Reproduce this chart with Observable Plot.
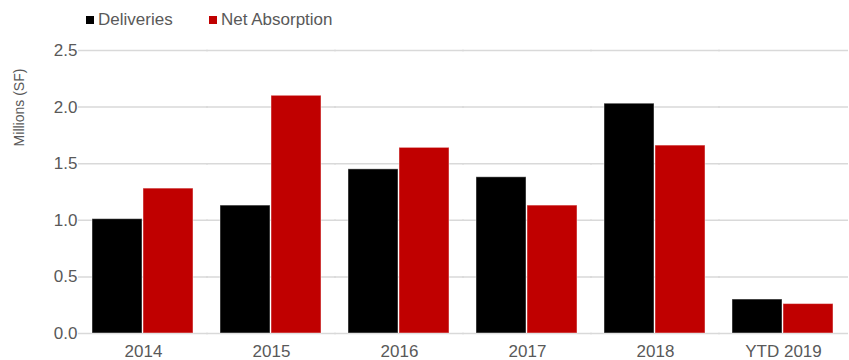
<!DOCTYPE html>
<html><head><meta charset="utf-8">
<script src="https://cdn.jsdelivr.net/npm/d3@7"></script>
<script src="https://cdn.jsdelivr.net/npm/@observablehq/plot@0.6"></script>
<style>
body{margin:0;background:#fff;font-family:"Liberation Sans",Arial,sans-serif;}
#legend{height:40px;position:relative;color:#595959;font-size:17px;line-height:22px;}
.item{position:absolute;top:9px;display:flex;align-items:center;}
.sw{width:8px;height:8px;margin-right:4px;}
</style></head><body>
<div id="legend"></div><div id="chart"></div>
<script>
const years = ["2014","2015","2016","2017","2018","YTD 2019"];
const deliveries = [1.01,1.13,1.45,1.38,2.03,0.30];
const netAbsorption = [1.28,2.10,1.64,1.13,1.66,0.26];
const seriesNames = ["Deliveries","Net Absorption"];
const seriesColors = ["#000000","#c00000"];
const yTicks = [0,0.5,1,1.5,2,2.5];
const yTitle = "Millions (SF)";

const data = [];
years.forEach((y,i)=>{
  data.push({year:y, series:seriesNames[0], value:deliveries[i]});
  data.push({year:y, series:seriesNames[1], value:netAbsorption[i]});
});

const legend = document.getElementById("legend");
const legendX = [86,209];
seriesNames.forEach((n,i)=>{
  const it = document.createElement("div");
  it.className="item"; it.style.left=legendX[i]+"px";
  it.innerHTML = `<span class="sw" style="background:${seriesColors[i]}"></span><span>${n}</span>`;
  legend.appendChild(it);
});

const chart = Plot.plot({
  width: 849,
  height: 320,
  marginLeft: 79,
  marginRight: 2,
  marginTop: 10,
  marginBottom: 27,
  style: {fontFamily:'"Liberation Sans",Arial,sans-serif', fontSize:"17px", color:"#595959", background:"#fff"},
  fx: {domain: years, paddingInner: 0.19, paddingOuter: 0.095, label: null, axis: "bottom", tickSize: 0, tickPadding: 11},
  x: {domain: seriesNames, padding: 0.015, axis: null},
  y: {domain: [0,2.5], label: null, axis: null},
  color: {domain: seriesNames, range: seriesColors},
  marks: [
    Plot.gridY(yTicks, {stroke:"#d9d9d9", strokeOpacity:1, strokeWidth:1.5, insetLeft:-13, insetRight:-13}),
    Plot.barY(data, {fx:"year", x:"series", y:"value", fill:"series", stroke:"#ffffff", strokeOpacity:0.45, strokeWidth:1}),
    Plot.axisY(yTicks, {tickSize:0, tickPadding:14, tickFormat: d=>d.toFixed(1), fill:"#595959", label:null}),
    Plot.text([yTitle], {frameAnchor:"top-left", dx:-77, dy:57, rotate:-90, fontSize:14, fill:"#595959", textAnchor:"middle", facet:"super"})
  ]
});
document.getElementById("chart").appendChild(chart);
</script>
</body></html>
